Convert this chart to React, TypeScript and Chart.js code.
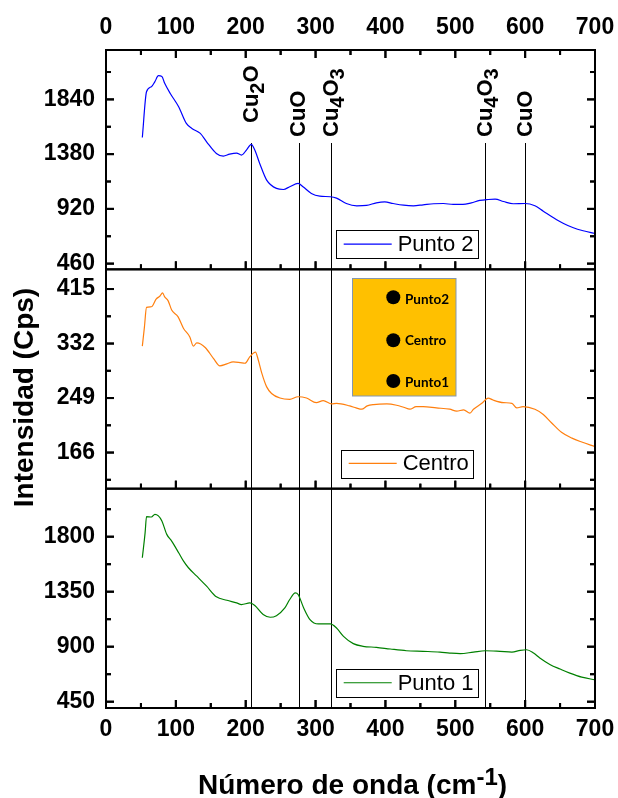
import React, { useEffect, useRef } from "react";
import { Chart, registerables } from "chart.js";

Chart.register(...registerables);

// ---------- data ----------
const xTicks = [0, 100, 200, 300, 400, 500, 600, 700];
const punto2Ticks = [460, 920, 1380, 1840];
const centroTicks = [166, 249, 332, 415];
const punto1Ticks = [450, 900, 1350, 1800];

const punto2X = [52, 58, 65, 70, 75, 80, 84, 92, 104, 115, 123, 135, 144, 158, 168, 177, 187, 194, 201, 208, 213, 220, 230, 244, 254, 263, 275, 282, 294, 306, 321, 330, 344, 359, 373, 387, 399, 411, 426, 440, 454, 469, 483, 497, 511, 523, 535, 547, 557, 569, 583, 600, 614, 626, 640, 655, 669, 683, 700];
const punto2Y = [1520, 1904, 1946, 1989, 2039, 2033, 1975, 1890, 1778, 1638, 1596, 1554, 1484, 1386, 1363, 1380, 1389, 1372, 1414, 1462, 1414, 1302, 1162, 1092, 1083, 1106, 1134, 1106, 1050, 1027, 1022, 1010, 965, 946, 949, 971, 979, 965, 951, 946, 954, 963, 965, 957, 957, 971, 991, 999, 1002, 982, 963, 965, 946, 901, 848, 797, 761, 736, 713];

const centroX = [52, 55, 58, 65, 72, 77, 81, 84, 89, 94, 103, 111, 120, 125, 130, 142, 154, 163, 173, 182, 192, 199, 206, 214, 218, 223, 230, 237, 249, 263, 275, 287, 301, 311, 323, 330, 349, 358, 366, 374, 383, 402, 416, 426, 435, 444, 454, 473, 492, 502, 512, 521, 526, 538, 547, 554, 569, 581, 588, 597, 614, 626, 638, 652, 667, 681, 700];
const centroY = [328, 357, 387, 388, 400, 404, 409, 403, 397, 383, 373, 355, 342, 328, 333, 326, 309, 298, 301, 304, 303, 302, 312, 319, 307, 287, 266, 256, 249, 247, 251, 249, 242, 245, 240, 241, 237, 234, 232, 237, 239, 240, 238, 235, 232, 236, 236, 234, 232, 229, 231, 226, 232, 241, 249, 246, 242, 241, 234, 236, 232, 224, 211, 197, 188, 182, 175];

const punto1X = [52, 56, 58, 65, 70, 75, 80, 87, 94, 104, 111, 118, 130, 144, 158, 173, 187, 194, 206, 213, 225, 235, 244, 256, 263, 271, 275, 283, 292, 304, 321, 330, 340, 354, 368, 387, 407, 430, 454, 478, 492, 507, 526, 543, 564, 581, 593, 602, 612, 621, 636, 650, 664, 681, 700];
const punto1Y = [1628, 1833, 1964, 1961, 1983, 1970, 1929, 1819, 1764, 1669, 1600, 1546, 1477, 1395, 1308, 1280, 1258, 1245, 1258, 1237, 1163, 1141, 1154, 1217, 1286, 1340, 1327, 1217, 1122, 1086, 1086, 1053, 985, 925, 903, 895, 881, 867, 862, 856, 848, 843, 856, 867, 862, 856, 870, 875, 848, 807, 752, 717, 684, 651, 629];

const markerX = [208, 276, 322, 543, 600];
const markerLabels = ["Cu_2O", "CuO", "Cu_4O_3", "Cu_4O_3", "CuO"];
const seriesNames = ["Punto 2", "Centro", "Punto 1"];
const insetLabels = ["Punto2", "Centro", "Punto1"];

// ---------- styling ----------
const FONT = "'Liberation Sans', Arial, Helvetica, sans-serif";
const colors = ["#0000FF", "#FF7F0E", "#008000"];

const pts = (xs: number[], ys: number[]) => xs.map((x, i) => ({ x, y: ys[i] }));

function drawRich(ctx: CanvasRenderingContext2D, label: string, size: number, subSize: number, subShift: number) {
  let cx = 0;
  let i = 0;
  while (i < label.length) {
    if (label[i] === "_") {
      const s = label[i + 1];
      ctx.font = `bold ${subSize}px ${FONT}`;
      ctx.fillText(s, cx, subShift);
      cx += ctx.measureText(s).width;
      i += 2;
    } else {
      let j = i;
      while (j < label.length && label[j] !== "_") j++;
      const s = label.slice(i, j);
      ctx.font = `bold ${size}px ${FONT}`;
      ctx.fillText(s, cx, 0);
      cx += ctx.measureText(s).width;
      i = j;
    }
  }
}

function drawTicks(chart: any) {
  const { ctx, chartArea } = chart;
  const xs = chart.scales.x;
  const panels = [chart.scales.y1, chart.scales.y2, chart.scales.y3];
  const tickSets = [punto2Ticks, centroTicks, punto1Ticks];
  const L = chartArea.left;
  const R = chartArea.right;
  ctx.save();
  ctx.fillStyle = "#000";
  const hTick = (x: number, y: number, len: number) => ctx.fillRect(len > 0 ? x : x + len, y - 1, Math.abs(len), 2);
  const vTick = (x: number, y: number, len: number) => ctx.fillRect(x - 1, len > 0 ? y : y + len, 2, Math.abs(len));
  for (let k = 0; k < 3; k++) {
    const sc = panels[k];
    const majors = tickSets[k];
    const step = majors[1] - majors[0];
    for (let m = 0; m < majors.length; m++) {
      const py = sc.getPixelForValue(majors[m]);
      hTick(L, py, 8);
      hTick(R, py, -8);
    }
    for (let v = majors[0] - step / 2; v <= sc.max; v += step) {
      if (v < sc.min) continue;
      const py = sc.getPixelForValue(v);
      hTick(L, py, 5);
      hTick(R, py, -5);
    }
    const xstep = xTicks[1] - xTicks[0];
    for (let m = 0; m < xTicks.length; m++) {
      const px = xs.getPixelForValue(xTicks[m]);
      vTick(px, sc.bottom, -8);
      if (k === 0) vTick(px, sc.top, 8);
    }
    for (let v = xTicks[0] + xstep / 2; v < xTicks[xTicks.length - 1]; v += xstep) {
      const px = xs.getPixelForValue(v);
      vTick(px, sc.bottom, -5);
      if (k === 0) vTick(px, sc.top, 5);
    }
  }
  ctx.restore();
}

const decor = {
  id: "decor",
  beforeDatasetsDraw(chart: any) {
    const { ctx, chartArea } = chart;
    const xs = chart.scales.x;
    ctx.save();
    ctx.fillStyle = "#000";
    markerX.forEach((v) => {
      const px = Math.round(xs.getPixelForValue(v));
      ctx.fillRect(px, chartArea.top + 93, 1, chartArea.bottom - chartArea.top - 93);
    });
    ctx.restore();
  },
  afterDatasetsDraw(chart: any) {
    drawTicks(chart);
  },
  afterDraw(chart: any) {
    const { ctx, chartArea } = chart;
    const xs = chart.scales.x;
    const panels = [chart.scales.y1, chart.scales.y2, chart.scales.y3];
    const L = chartArea.left;
    const R = chartArea.right;
    ctx.save();
    ctx.setLineDash([]);
    ctx.globalAlpha = 1;

    // legends
    panels.forEach((sc: any, k: number) => {
      const boxL = k === 1 ? 340.7 : 335.7;
      const boxW = k === 1 ? 131.6 : 141.8;
      const boxB = sc.bottom - 11.5;
      const boxH = 27.5;
      ctx.fillStyle = "#fff";
      ctx.fillRect(boxL, boxB - boxH, boxW, boxH);
      ctx.lineWidth = 1;
      ctx.strokeStyle = "#000";
      ctx.strokeRect(Math.round(boxL) + 0.5, Math.round(boxB - boxH) + 0.5, Math.round(boxW), Math.round(boxH));
      const cy = boxB - boxH / 2;
      ctx.strokeStyle = colors[k];
      ctx.lineWidth = 1.2;
      ctx.beginPath();
      ctx.moveTo(boxL + 8, cy);
      ctx.lineTo(boxL + 56, cy);
      ctx.stroke();
      ctx.fillStyle = "#000";
      ctx.font = `22px ${FONT}`;
      ctx.textAlign = "left";
      ctx.textBaseline = "middle";
      ctx.fillText(seriesNames[k], boxL + 62, cy + 1);
    });

    // frames
    ctx.strokeStyle = "#000";
    ctx.lineWidth = 2;
    panels.forEach((sc: any) => {
      ctx.strokeRect(L, sc.top, R - L, sc.bottom - sc.top);
    });

    // inward ticks
    drawTicks(chart);

    // marker labels
    ctx.fillStyle = "#000";
    const lift = [14, 0, 0, 0, 0];
    markerX.forEach((v, i) => {
      const px = xs.getPixelForValue(v);
      ctx.save();
      ctx.translate(px + 0.5, chartArea.top + 87 - lift[i]);
      ctx.rotate(-Math.PI / 2);
      ctx.textAlign = "left";
      ctx.textBaseline = "middle";
      drawRich(ctx, markerLabels[i], 22, 20, 7);
      ctx.restore();
    });

    // inset
    ctx.fillStyle = "#FFC000";
    ctx.fillRect(352.7, 278.3, 103.3, 117.7);
    ctx.strokeStyle = "#8497B0";
    ctx.lineWidth = 1;
    ctx.strokeRect(352.5, 278.5, 103.5, 117.5);
    const dotY = [297.3, 340.2, 381];
    const txtY = [299.3, 341, 382.7];
    dotY.forEach((dy, i) => {
      ctx.fillStyle = "#000";
      ctx.beginPath();
      ctx.arc(393.3, dy, 7, 0, Math.PI * 2);
      ctx.fill();
      ctx.font = `bold 13.5px Lato, 'Open Sans', sans-serif`;
      ctx.textAlign = "left";
      ctx.textBaseline = "middle";
      ctx.fillText(insetLabels[i], 405, txtY[i]);
    });

    // axis titles
    ctx.fillStyle = "#000";
    ctx.save();
    ctx.translate(33, 397.5);
    ctx.rotate(-Math.PI / 2);
    ctx.font = `bold 28px ${FONT}`;
    ctx.textAlign = "center";
    ctx.textBaseline = "alphabetic";
    ctx.fillText("Intensidad (Cps)", 0, 0);
    ctx.restore();

    const main = "Número de onda (cm";
    const sup = "-1";
    const close = ")";
    ctx.font = `bold 28px ${FONT}`;
    const w1 = ctx.measureText(main).width;
    const w3 = ctx.measureText(close).width;
    ctx.font = `bold 24px ${FONT}`;
    const w2 = ctx.measureText(sup).width;
    const total = w1 + w2 + w3;
    let sx = (L + R) / 2 + 2 - total / 2;
    const baseY = 794;
    ctx.textAlign = "left";
    ctx.textBaseline = "alphabetic";
    ctx.font = `bold 28px ${FONT}`;
    ctx.fillText(main, sx, baseY);
    sx += w1;
    ctx.font = `bold 24px ${FONT}`;
    ctx.fillText(sup, sx, baseY - 9);
    sx += w2;
    ctx.font = `bold 28px ${FONT}`;
    ctx.fillText(close, sx, baseY);

    ctx.restore();
  },
};

export default function App() {
  const ref = useRef<HTMLCanvasElement>(null);
  useEffect(() => {
    const tickFont = { family: FONT, size: 23, weight: "bold" as const };
    const yAxis = (ticksArr: number[], min: number, max: number, weight: number) => ({
      type: "linear" as const,
      position: "left" as const,
      stack: "panels",
      stackWeight: 1,
      weight,
      min,
      max,
      grid: { display: false, drawTicks: false },
      border: { display: false },
      ticks: { font: tickFont, color: "#000", padding: 11, autoSkip: false, includeBounds: false, callback: (v: any) => String(v) },
      afterBuildTicks: (s: any) => { s.ticks = ticksArr.map((v) => ({ value: v })); },
      afterFit: (s: any) => { s.width = 106; s.paddingTop = 0; s.paddingBottom = 0; },
    });
    const xAxis = (pos: "top" | "bottom", h: number, pad: number) => ({
      type: "linear" as const,
      position: pos,
      min: 0,
      max: 700,
      grid: { display: false, drawTicks: false },
      border: { display: false },
      ticks: { font: tickFont, color: "#000", padding: pad, autoSkip: false, maxRotation: 0, includeBounds: false, callback: (v: any) => String(v) },
      afterBuildTicks: (s: any) => { s.ticks = xTicks.map((v) => ({ value: v })); },
      afterFit: (s: any) => { s.height = h; s.paddingLeft = 0; s.paddingRight = 0; },
    });
    const chart = new Chart(ref.current as HTMLCanvasElement, {
      type: "line",
      data: {
        datasets: [
          { label: seriesNames[0], data: pts(punto2X, punto2Y), borderColor: colors[0], yAxisID: "y1", xAxisID: "x" },
          { label: seriesNames[1], data: pts(centroX, centroY), borderColor: colors[1], yAxisID: "y2", xAxisID: "x" },
          { label: seriesNames[2], data: pts(punto1X, punto1Y), borderColor: colors[2], yAxisID: "y3", xAxisID: "x" },
        ],
      },
      options: {
        responsive: false,
        animation: false,
        layout: { padding: { left: 0, right: 23, top: 0, bottom: 0 } },
        plugins: { legend: { display: false }, tooltip: { enabled: false } },
        elements: {
          point: { radius: 0 },
          line: { borderWidth: 1.2, cubicInterpolationMode: "monotone", fill: false },
        },
        scales: {
          x: xAxis("bottom", 90, 8),
          xTop: xAxis("top", 50, 9),
          y1: yAxis(punto2Ticks, 412, 2255, 3),
          y2: yAxis(centroTicks, 111, 445, 2),
          y3: yAxis(punto1Ticks, 398.5, 2193, 1),
        },
      } as any,
      plugins: [decor],
    });
    return () => chart.destroy();
  }, []);
  return (
    <div style={{ position: "absolute", left: 0, top: 0, width: 618, height: 798, background: "#fff" }}>
      <canvas ref={ref} width={618} height={798} style={{ display: "block", width: 618, height: 798 }} />
    </div>
  );
}
